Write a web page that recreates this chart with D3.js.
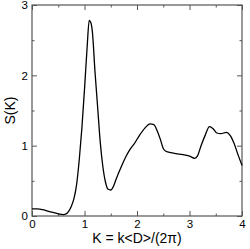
<!DOCTYPE html>
<html>
<head>
<meta charset="utf-8">
<script src="https://cdn.jsdelivr.net/npm/d3@7"></script>
<style>
  body { margin: 0; background: #fff; }
  text { font-family: "Liberation Sans", Arial, sans-serif; }
</style>
</head>
<body>
<script>
// S(K)
var kValues = [0.0, 0.1, 0.2, 0.3, 0.4, 0.5, 0.6, 0.65, 0.7, 0.75, 0.8, 0.85, 0.9, 0.95, 1.0, 1.05, 1.09, 1.12, 1.15, 1.2, 1.25, 1.3, 1.35, 1.4, 1.45, 1.5, 1.55, 1.6, 1.7, 1.8, 1.87, 1.95, 2.05, 2.15, 2.25, 2.32, 2.38, 2.44, 2.5, 2.55, 2.65, 2.8, 2.9, 3.0, 3.1, 3.15, 3.22, 3.3, 3.38, 3.45, 3.52, 3.6, 3.7, 3.78, 3.85, 3.92, 4.0];
var sValues = [0.10, 0.10, 0.09, 0.07, 0.05, 0.03, 0.02, 0.03, 0.07, 0.14, 0.25, 0.45, 0.80, 1.25, 1.80, 2.40, 2.78, 2.75, 2.62, 2.05, 1.55, 1.05, 0.70, 0.48, 0.38, 0.37, 0.42, 0.52, 0.70, 0.86, 0.95, 1.03, 1.15, 1.25, 1.31, 1.30, 1.22, 1.10, 0.96, 0.92, 0.90, 0.88, 0.87, 0.85, 0.82, 0.85, 1.00, 1.15, 1.27, 1.24, 1.18, 1.17, 1.19, 1.14, 1.03, 0.88, 0.72];

var xTicks = [0, 1, 2, 3, 4];
var xMinor = [0.5, 1.5, 2.5, 3.5];
var yTicks = [0, 1, 2, 3];
var yMinor = [0.5, 1.5, 2.5];

var width = 250, height = 249;
var margin = {top: 5, right: 8, bottom: 33, left: 32};

var svg = d3.select("body").append("svg").attr("width", width).attr("height", height);

var x = d3.scaleLinear().domain([0, 4]).range([margin.left, width - margin.right]);
var y = d3.scaleLinear().domain([0, 3]).range([height - margin.bottom, margin.top]);

var axisColor = "#555";

function drawAxis(axis, tx, ty, labels) {
  var g = svg.append("g").attr("transform", "translate(" + tx + "," + ty + ")").call(axis);
  g.select(".domain").remove();
  g.selectAll("line").attr("stroke", axisColor);
  g.selectAll("text").attr("fill", "#000").style("font-size", "11.5px");
  if (!labels) g.selectAll("text").remove();
  return g;
}

var x0 = y(0), x1 = y(3);
// bottom
drawAxis(d3.axisBottom(x).tickValues(xTicks).tickSizeInner(-5).tickSizeOuter(0).tickPadding(4).tickFormat(d3.format("d")), 0, x0, true);
drawAxis(d3.axisBottom(x).tickValues(xMinor).tickSizeInner(-2.5).tickSizeOuter(0), 0, x0, false);
// top
drawAxis(d3.axisTop(x).tickValues(xTicks).tickSizeInner(-5).tickSizeOuter(0), 0, x1, false);
drawAxis(d3.axisTop(x).tickValues(xMinor).tickSizeInner(-2.5).tickSizeOuter(0), 0, x1, false);
// left
drawAxis(d3.axisLeft(y).tickValues(yTicks).tickSizeInner(-5).tickSizeOuter(0).tickPadding(4).tickFormat(d3.format("d")), margin.left, 0, true);
drawAxis(d3.axisLeft(y).tickValues(yMinor).tickSizeInner(-2.5).tickSizeOuter(0), margin.left, 0, false);
// right
drawAxis(d3.axisRight(y).tickValues(yTicks).tickSizeInner(-5).tickSizeOuter(0), width - margin.right, 0, false);
drawAxis(d3.axisRight(y).tickValues(yMinor).tickSizeInner(-2.5).tickSizeOuter(0), width - margin.right, 0, false);

// frame
svg.append("rect")
  .attr("x", x(0)).attr("y", y(3))
  .attr("width", x(4) - x(0)).attr("height", y(0) - y(3))
  .attr("fill", "none").attr("stroke", axisColor).attr("stroke-width", 1.2);

var line = d3.line()
  .x(function(d, i){ return x(kValues[i]); })
  .y(function(d){ return y(d); })
  .curve(d3.curveMonotoneX);

svg.append("path")
  .datum(sValues)
  .attr("d", line)
  .attr("fill", "none")
  .attr("stroke", "#000")
  .attr("stroke-width", 1.3);

svg.append("text")
  .attr("x", (x(0) + x(4)) / 2)
  .attr("y", 243)
  .attr("text-anchor", "middle")
  .style("font-size", "14px")
  .text("K = k<D>/(2π)");

svg.append("text")
  .attr("transform", "translate(15," + ((y(0) + y(3)) / 2) + ") rotate(-90)")
  .attr("text-anchor", "middle")
  .style("font-size", "14px")
  .text("S(K)");
</script>
</body>
</html>
